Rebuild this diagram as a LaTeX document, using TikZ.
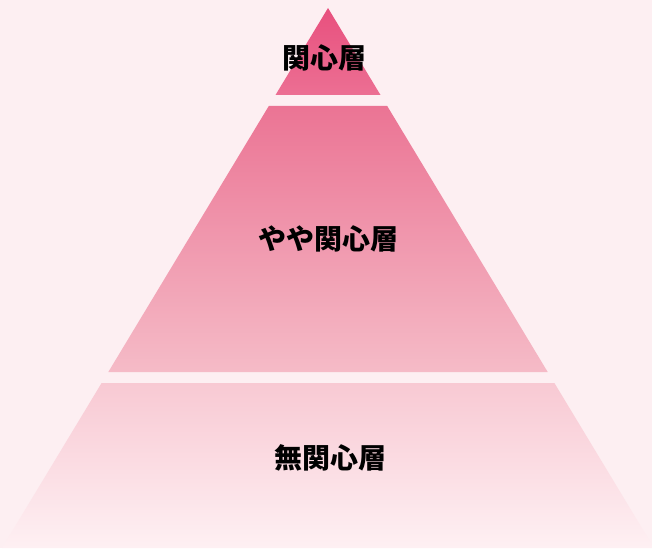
\documentclass[tikz,border=0pt]{standalone}
\usepackage{fontspec}
\newfontfamily\jpfont{Noto Sans CJK JP}
\definecolor{bgc}{HTML}{FDEFF2}
\definecolor{aT}{HTML}{E8507E}
\definecolor{aB}{HTML}{EC6F93}
\definecolor{bT}{HTML}{EB7494}
\definecolor{bB}{HTML}{F5BBC7}
\definecolor{cT}{HTML}{F8C9D3}
\definecolor{cB}{HTML}{FEF0F3}
\tikzset{lbl/.style={font=\jpfont\bfseries\fontsize{28}{28}\selectfont, text=black, inner sep=0pt}}
\begin{document}
\begin{tikzpicture}[x=1pt,y=-1pt]
\fill[bgc] (0,0) rectangle (652,548);
\useasboundingbox (0,0) rectangle (652,548);
\begin{scope}
\clip (0,0) rectangle (652,548);
\shade[top color=aT, bottom color=aB] (328,8) -- (380.5,95) -- (275.5,95) -- cycle;
\shade[top color=bT, bottom color=bB] (268.8,106) -- (387.2,106) -- (547.7,372) -- (108.3,372) -- cycle;
\shade[top color=cT, bottom color=cB] (101.6,383) -- (554.4,383) -- (654,548) -- (2,548) -- cycle;
\end{scope}
\node[lbl] (top) at (324,58) {関心層};
\node[lbl] (mid) at (328,239) {やや関心層};
\node[lbl] (bot) at (330,458) {無関心層};
\end{tikzpicture}
\end{document}
